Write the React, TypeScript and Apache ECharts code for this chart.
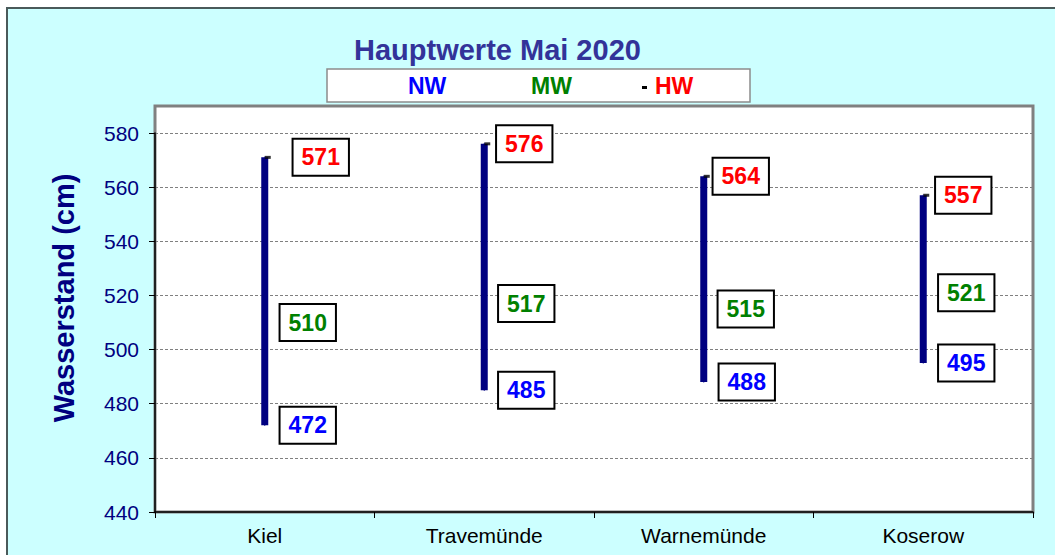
import React, { useEffect, useRef } from "react";
import * as echarts from "echarts";

const categories = ["Kiel", "Travemünde", "Warnemünde", "Koserow"];
const nwValues = [472, 485, 488, 495];
const mwValues = [510, 517, 515, 521];
const hwValues = [571, 576, 564, 557];
const yTicks = { min: 440, max: 580, interval: 20 };

// label layout tweaks (horizontal offsets in px, right of the range line)
const hwLabelDx = [56, 40, 37, 40];
const mwLabelDx = [43, 42, 42, 43];
const nwLabelDx = [43, 42, 43, 43];

const FONT = "'Liberation Sans', Arial, sans-serif";

function labelStyle(color: string) {
  return {
    show: true,
    position: "inside" as const,
    color,
    opacity: 1,
    fontFamily: FONT,
    fontSize: 23,
    fontWeight: "bold" as const,
    lineHeight: 25,
    backgroundColor: "#ffffff",
    borderColor: "#000000",
    borderWidth: 2,
    padding: [5, 8, 5, 8],
    textBorderWidth: 0,
    textBorderColor: "transparent",
    textShadowBlur: 0,
    textShadowColor: "transparent",
    shadowBlur: 0,
    shadowColor: "transparent",
    formatter: (p: any) => String(p.value[1]),
  };
}

function labelSeries(name: string, values: number[], dx: number[], color: string) {
  return {
    name,
    type: "scatter",
    symbol: "rect",
    symbolSize: 1,
    itemStyle: { color: "#000080", opacity: 1 },
    emphasis: { disabled: true },
    z: 5,
    label: labelStyle(color),
    data: values.map((v, i) => ({ value: [i, v], label: { offset: [dx[i], 0] } })),
  };
}

export default function App() {
  const ref = useRef<HTMLDivElement>(null);
  useEffect(() => {
    if (!ref.current) return;
    const chart = echarts.init(ref.current, null, { renderer: "svg" });
    const option: any = {
      animation: false,
      backgroundColor: "#ffffff",
      title: {
        text: "Hauptwerte Mai 2020",
        left: 354,
        top: 35,
        padding: 0,
        textStyle: { color: "#333399", fontFamily: FONT, fontSize: 29, fontWeight: "bold" },
      },
      grid: { left: 155, right: 22, top: 133, bottom: 43, containLabel: false },
      xAxis: {
        type: "category",
        data: categories,
        boundaryGap: true,
        axisLine: { lineStyle: { color: "#000000", width: 1.5 } },
        axisTick: { show: true, length: 6, lineStyle: { color: "#000000" } },
        axisLabel: { color: "#000000", fontFamily: FONT, fontSize: 21, margin: 13 },
        splitLine: { show: false },
      },
      yAxis: {
        type: "value",
        min: yTicks.min,
        max: yTicks.max,
        interval: yTicks.interval,
        axisLine: { show: true, lineStyle: { color: "#000000", width: 1.5 } },
        axisTick: { show: true, length: 6, lineStyle: { color: "#000000" } },
        axisLabel: { color: "#000080", fontFamily: FONT, fontSize: 21, margin: 16 },
        splitLine: { show: true, lineStyle: { color: "#808080", width: 1, type: [3, 2] } },
      },
      graphic: [
        {
          type: "rect",
          z: -100,
          silent: true,
          shape: { x: 7, y: 8, width: 1070, height: 570 },
          style: { fill: "#CCFFFF", stroke: "#4a5a5a", lineWidth: 2 },
        },
        {
          type: "rect",
          z: -50,
          silent: true,
          shape: { x: 155, y: 106, width: 878, height: 406 },
          style: { fill: "#ffffff", stroke: "#808080", lineWidth: 3 },
        },
        {
          type: "rect",
          silent: true,
          shape: { x: 327, y: 69, width: 423, height: 33 },
          style: { fill: "#ffffff", stroke: "#8c8c8c", lineWidth: 1.5 },
        },
        {
          type: "text",
          silent: true,
          x: 408,
          y: 86,
          style: { text: "NW", fill: "#0000FF", font: `bold 23px ${FONT}`, textAlign: "left", textVerticalAlign: "middle" },
        },
        {
          type: "text",
          silent: true,
          x: 531,
          y: 86,
          style: { text: "MW", fill: "#008000", font: `bold 23px ${FONT}`, textAlign: "left", textVerticalAlign: "middle" },
        },
        {
          type: "rect",
          silent: true,
          shape: { x: 642, y: 86, width: 5, height: 3 },
          style: { fill: "#000000" },
        },
        {
          type: "text",
          silent: true,
          x: 655,
          y: 86,
          style: { text: "HW", fill: "#FF0000", font: `bold 23px ${FONT}`, textAlign: "left", textVerticalAlign: "middle" },
        },
        {
          type: "text",
          silent: true,
          x: 64,
          y: 298,
          rotation: Math.PI / 2,
          style: {
            text: "Wasserstand (cm)",
            fill: "#000080",
            font: `bold 29px ${FONT}`,
            textAlign: "center",
            textVerticalAlign: "middle",
          },
        },
      ],
      series: [
        {
          name: "Range",
          type: "custom",
          z: 2,
          renderItem: (params: any, api: any) => {
            const lo = api.coord([api.value(0), api.value(1)]);
            const hi = api.coord([api.value(0), api.value(2)]);
            return {
              type: "line",
              shape: { x1: lo[0], y1: lo[1], x2: hi[0], y2: hi[1] },
              style: { stroke: "#000080", lineWidth: 7, lineCap: "butt" },
            };
          },
          encode: { x: 0, y: [1, 2] },
          data: categories.map((_, i) => [i, nwValues[i], hwValues[i]]),
        },
        {
          name: "HW marker",
          type: "scatter",
          symbol: "rect",
          symbolSize: [6, 3],
          symbolOffset: [3, 0],
          itemStyle: { color: "#000000" },
          z: 3,
          data: hwValues.map((v, i) => [i, v]),
        },
        labelSeries("NW", nwValues, nwLabelDx, "#0000FF"),
        labelSeries("MW", mwValues, mwLabelDx, "#008000"),
        labelSeries("HW", hwValues, hwLabelDx, "#FF0000"),
      ],
    };
    chart.setOption(option);
    return () => chart.dispose();
  }, []);
  return (
    <div
      ref={ref}
      style={{ position: "absolute", left: 0, top: 0, width: 1055, height: 555 }}
    />
  );
}
